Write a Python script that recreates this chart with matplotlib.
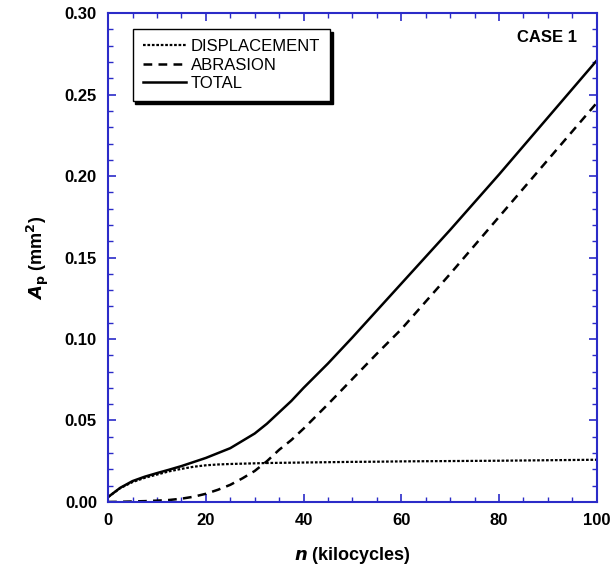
import numpy as np
import matplotlib.pyplot as plt
from matplotlib.ticker import MultipleLocator

# data
n = [0, 2.5, 5, 7.5, 10, 12.5, 15, 17.5, 20, 22.5, 25, 27.5, 30, 32.5, 35, 37.5,
     40, 45, 50, 55, 60, 70, 80, 90, 100]
displacement = [0.003, 0.0085, 0.0122, 0.0148, 0.0168, 0.0188, 0.0203, 0.0216, 0.0225, 0.023,
                0.0233, 0.0235, 0.0237, 0.0239, 0.024, 0.0241, 0.0242, 0.0244, 0.0246,
                0.0247, 0.0249, 0.0251, 0.0253, 0.0256, 0.0259]
abrasion = [0.0, 0.0001, 0.0003, 0.0005, 0.0008, 0.0012, 0.002, 0.0032, 0.005, 0.0075,
            0.0105, 0.0145, 0.019, 0.025, 0.032, 0.038, 0.045, 0.060, 0.0755, 0.091,
            0.106, 0.140, 0.175, 0.210, 0.245]
total = [0.003, 0.0087, 0.0128, 0.0155, 0.0177, 0.0198, 0.022, 0.0245, 0.027, 0.030,
         0.033, 0.0375, 0.042, 0.048, 0.055, 0.062, 0.070, 0.085, 0.101, 0.1175,
         0.134, 0.167, 0.201, 0.236, 0.271]

plt.rcParams['font.family'] = ['Liberation Sans', 'DejaVu Sans']

fig = plt.figure(figsize=(6.14, 5.73), dpi=100)
ax = fig.add_axes([0.176, 0.124, 0.796, 0.853])

ax.plot(n, displacement, color='black', linestyle=(0, (1.2, 0.8)), lw=1.6, label='DISPLACEMENT')
ax.plot(n, abrasion, color='black', linestyle=(0, (3.5, 2.5)), lw=1.8, label='ABRASION')
ax.plot(n, total, color='black', linestyle='-', lw=1.8, label='TOTAL')

ax.set_xlim(0, 100)
ax.set_ylim(0, 0.30)
ax.xaxis.set_major_locator(MultipleLocator(20))
ax.xaxis.set_minor_locator(MultipleLocator(5))
ax.yaxis.set_major_locator(MultipleLocator(0.05))
ax.yaxis.set_minor_locator(MultipleLocator(0.01))
ax.yaxis.set_major_formatter(plt.FuncFormatter(lambda v, p: f"{v:.2f}"))

blue = '#2b2bc8'
for s in ax.spines.values():
    s.set_color(blue)
    s.set_linewidth(1.5)
ax.tick_params(which='both', direction='in', top=True, right=True, color=blue,
               labelsize=12, pad=8)
ax.tick_params(which='major', length=6, width=1.2)
ax.tick_params(which='minor', length=3.5, width=1.0)
for lab in ax.get_xticklabels() + ax.get_yticklabels():
    lab.set_fontweight('bold')

ax.set_xlabel(r"$\bfit{n}$ (kilocycles)", fontsize=13, fontweight='bold', labelpad=12)
ax.set_ylabel(r"$\bfit{A}_{\mathbf{p}}$ (mm$^{\mathbf{2}}$)", fontsize=13, fontweight='bold', labelpad=10)

ax.text(0.96, 0.95, 'CASE 1', transform=ax.transAxes, ha='right', va='center',
        fontsize=12, fontweight='bold')

leg = ax.legend(loc='upper left', bbox_to_anchor=(0.033, 0.984), fancybox=False,
                shadow={'facecolor': 'black', 'edgecolor': 'black', 'alpha': 1},
                edgecolor='black', fontsize=12, handlelength=2.6, handletextpad=0.3,
                borderpad=0.6, labelspacing=0.2, framealpha=1)
leg.get_frame().set_linewidth(1.0)

fig.savefig('out.png', dpi=100)
